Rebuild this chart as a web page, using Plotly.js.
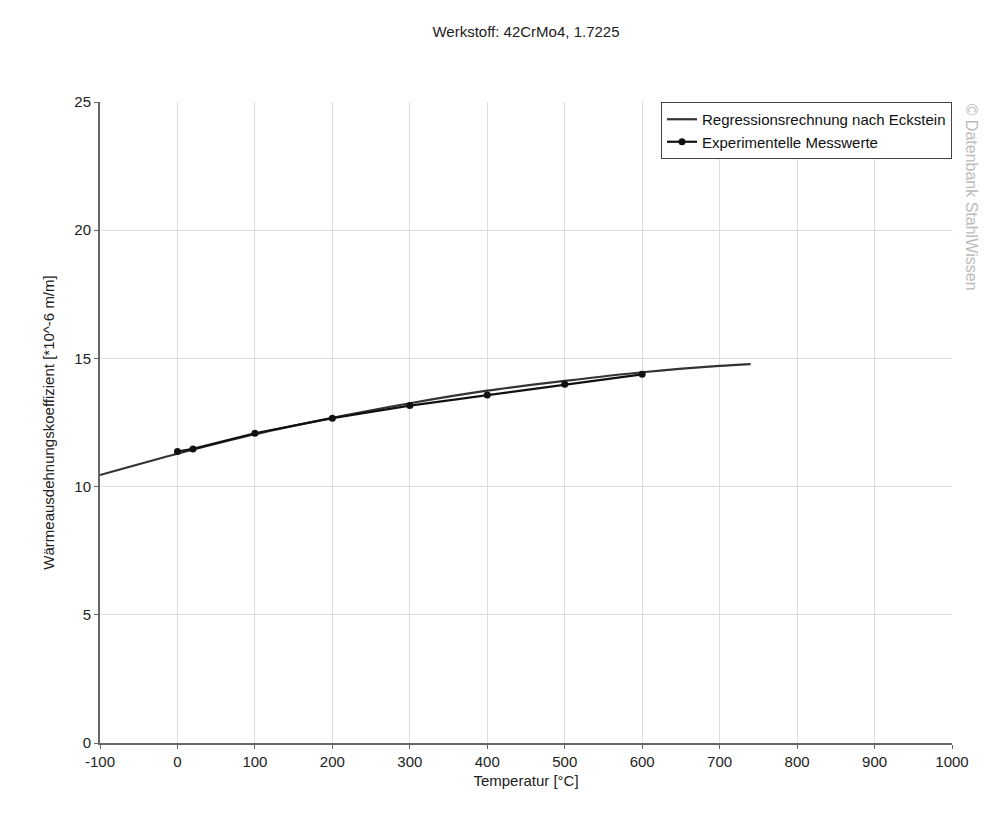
<!DOCTYPE html>
<html>
<head>
<meta charset="utf-8">
<script src="https://cdn.plot.ly/plotly-3.0.1.min.js"></script>
<style>
  html, body { margin: 0; padding: 0; background: #fff; }
  #chart { width: 1000px; height: 813px; }
</style>
</head>
<body>
<div id="chart"></div>
<script>
// Regression curve
var regTemp = [-100, 0, 100, 200, 300, 400, 500, 600, 700, 740];
var regValue = [10.45, 11.28, 12.04, 12.68, 13.25, 13.74, 14.12, 14.46, 14.71, 14.78];

// Measured values
var measTemp = [0, 20, 100, 200, 300, 400, 500, 600];
var measValue = [11.37, 11.47, 12.08, 12.67, 13.16, 13.57, 13.99, 14.38];

var xTicks = [-100, 0, 100, 200, 300, 400, 500, 600, 700, 800, 900, 1000];
var xTickText = ['-100', '0', '100', '200', '300', '400', '500', '600', '700', '800', '900', '1000'];
var yTicks = [0, 5, 10, 15, 20, 25];

var data = [
    {
        type: 'scatter',
        mode: 'lines',
        name: 'Regressionsrechnung nach Eckstein',
        x: regTemp,
        y: regValue,
        line: { color: '#333333', width: 2.2, shape: 'spline', smoothing: 0.8 },
        hoverinfo: 'skip'
    },
    {
        type: 'scatter',
        mode: 'lines+markers',
        name: 'Experimentelle Messwerte',
        x: measTemp,
        y: measValue,
        line: { color: '#111111', width: 2.2 },
        marker: { color: '#111111', size: 7 }
    }
];

var layout = {
    width: 1000,
    height: 813,
    paper_bgcolor: '#ffffff',
    plot_bgcolor: '#ffffff',
    font: { family: 'Liberation Sans, Arial, sans-serif', size: 15, color: '#222222' },
    margin: { l: 100, r: 48, t: 102, b: 70 },
    title: {
        text: 'Werkstoff: 42CrMo4, 1.7225',
        x: 0.526,
        xanchor: 'center',
        y: 0.961,
        yanchor: 'middle',
        font: { size: 15, color: '#222222' }
    },
    xaxis: {
        range: [-100, 1000],
        tickvals: xTicks,
        ticktext: xTickText,
        ticks: 'outside',
        ticklen: 4,
        tickcolor: '#666666',
        showline: true,
        linecolor: '#666666',
        linewidth: 2,
        showgrid: true,
        gridcolor: '#dddddd',
        zeroline: false,
        title: { text: 'Temperatur [°C]', standoff: 6, font: { size: 15 } }
    },
    yaxis: {
        range: [0, 25],
        tickvals: yTicks,
        ticks: 'outside',
        ticklen: 4,
        tickcolor: '#666666',
        showline: true,
        linecolor: '#666666',
        linewidth: 2,
        showgrid: true,
        gridcolor: '#dddddd',
        zeroline: false,
        title: { text: 'Wärmeausdehnungskoeffizient [*10^-6 m/m]', standoff: 16, font: { size: 15 } }
    },
    legend: {
        x: 1,
        y: 1,
        xanchor: 'right',
        yanchor: 'top',
        bgcolor: '#ffffff',
        bordercolor: '#444444',
        borderwidth: 1,
        font: { size: 15, color: '#111111' },
        tracegroupgap: 0,
        itemwidth: 30
    },
    annotations: [
        {
            text: '© Datenbank StahlWissen',
            xref: 'paper',
            yref: 'paper',
            x: 1.011,
            y: 1.0,
            xanchor: 'left',
            yanchor: 'top',
            textangle: 90,
            showarrow: false,
            font: { size: 16, color: '#bbbbbb' }
        }
    ],
    showlegend: true
};

Plotly.newPlot('chart', data, layout, { displayModeBar: false, staticPlot: true });
</script>
</body>
</html>
